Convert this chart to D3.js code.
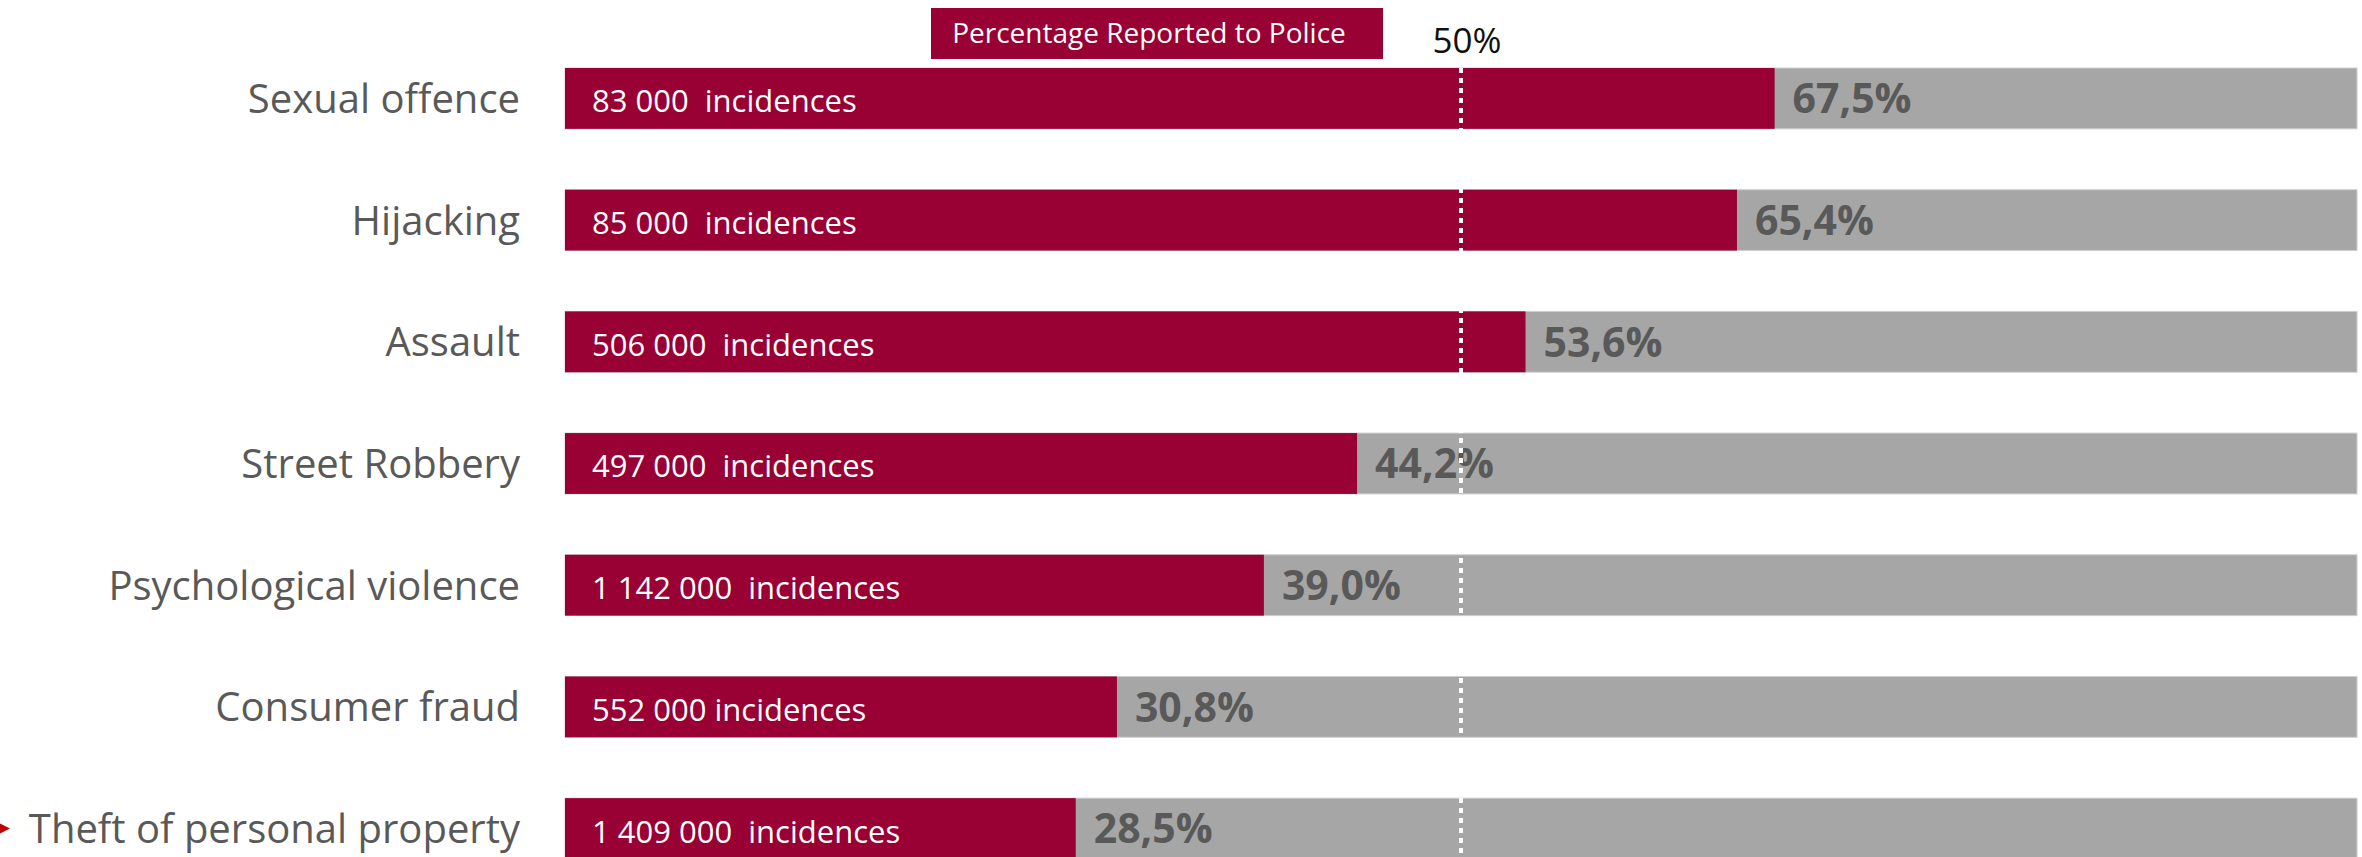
<!DOCTYPE html>
<html>
<head>
<meta charset="utf-8">
<style>
  body { margin: 0; background: #fff; }
  text { font-family: "Open Sans", "Noto Sans", sans-serif; white-space: pre; }
  .cat { fill: #595959; font-size: 40px; }
  .inc { fill: #fff; font-size: 31px; }
  .pct { fill: #595959; font-size: 41px; font-weight: 700; }
</style>
</head>
<body>
<svg width="2362" height="857"></svg>
<script src="https://d3js.org/d3.v7.min.js"></script>
<script>

var categories = ["Sexual offence", "Hijacking", "Assault", "Street Robbery",
                  "Psychological violence", "Consumer fraud", "Theft of personal property"];
var reported = [67.5, 65.4, 53.6, 44.2, 39.0, 30.8, 28.5];
var incidenceLabels = ["83 000  incidences", "85 000  incidences", "506 000  incidences",
                       "497 000  incidences", "1 142 000  incidences", "552 000 incidences",
                       "1 409 000  incidences"];
var refValue = 50;
var titleText = "Percentage Reported to Police";

var svg = d3.select("svg");

var red = "#990033",
    grey = "#a6a6a6";

var x = d3.scaleLinear()
    .domain([0, 100])
    .range([565, 2357]);

var y = d3.scaleBand()
    .domain(categories)
    .range([68, 859])
    .paddingInner(0.5)
    .paddingOuter(0);

var fmt = d3.formatLocale({decimal: ",", thousands: " ", grouping: [3], currency: ["", ""]}).format(".1f");

var rows = categories.map(function(c, i) {
  return {cat: c, val: reported[i], inc: incidenceLabels[i]};
});

// grey background bars (100%)
svg.selectAll(".bg")
    .data(rows)
  .enter().append("rect")
    .attr("class", "bg")
    .attr("x", x(0))
    .attr("y", function(d) { return y(d.cat); })
    .attr("width", x(100) - x(0))
    .attr("height", y.bandwidth())
    .attr("fill", grey)
    .attr("stroke", "#cfcfcf")
    .attr("stroke-width", 1);

// red bars
svg.selectAll(".bar")
    .data(rows)
  .enter().append("rect")
    .attr("class", "bar")
    .attr("x", x(0))
    .attr("y", function(d) { return y(d.cat); })
    .attr("width", function(d) { return x(d.val) - x(0); })
    .attr("height", y.bandwidth())
    .attr("fill", red);

// category labels
svg.selectAll(".cat")
    .data(rows)
  .enter().append("text")
    .attr("class", "cat")
    .attr("x", x(0) - 45)
    .attr("y", function(d) { return y(d.cat) + y.bandwidth() / 2; })
    .attr("dy", "0.36em")
    .attr("text-anchor", "end")
    .text(function(d) { return d.cat; });

// incidence labels inside red bars
svg.selectAll(".inc")
    .data(rows)
  .enter().append("text")
    .attr("class", "inc")
    .attr("x", x(0) + 27)
    .attr("y", function(d) { return y(d.cat) + y.bandwidth() / 2; })
    .attr("dy", "0.45em")
    .text(function(d) { return d.inc; });

// percentage labels
svg.selectAll(".pct")
    .data(rows)
  .enter().append("text")
    .attr("class", "pct")
    .attr("x", function(d) { return x(d.val) + 18; })
    .attr("y", function(d) { return y(d.cat) + y.bandwidth() / 2; })
    .attr("dy", "0.36em")
    .text(function(d) { return fmt(d.val) + "%"; });

// 50% dashed reference line
svg.append("line")
    .attr("x1", x(refValue))
    .attr("x2", x(refValue))
    .attr("y1", y(categories[0]))
    .attr("y2", y(categories[categories.length - 1]) + y.bandwidth())
    .attr("stroke", "#fff")
    .attr("stroke-width", 4)
    .attr("stroke-dasharray", "5,5");

svg.append("text")
    .attr("x", x(refValue) + 6)
    .attr("y", 53)
    .attr("text-anchor", "middle")
    .style("font-size", "35px")
    .style("fill", "#111")
    .text(refValue + "%");

// title box
var tb = svg.append("g").attr("transform", "translate(931,8)");
tb.append("rect")
    .attr("width", 452)
    .attr("height", 51)
    .attr("fill", red);
tb.append("text")
    .attr("x", 218)
    .attr("y", 26)
    .attr("dy", "0.33em")
    .attr("text-anchor", "middle")
    .style("font-size", "28px")
    .style("fill", "#fff")
    .text(titleText);

// small red arrow marker at the last row
var last = categories[categories.length - 1];
var ay = y(last) + y.bandwidth() / 2;
svg.append("path")
    .attr("d", "M-4," + (ay - 7) + "L10," + ay + "L-4," + (ay + 7) + "Z")
    .attr("fill", "#c00000");

</script>
</body>
</html>
